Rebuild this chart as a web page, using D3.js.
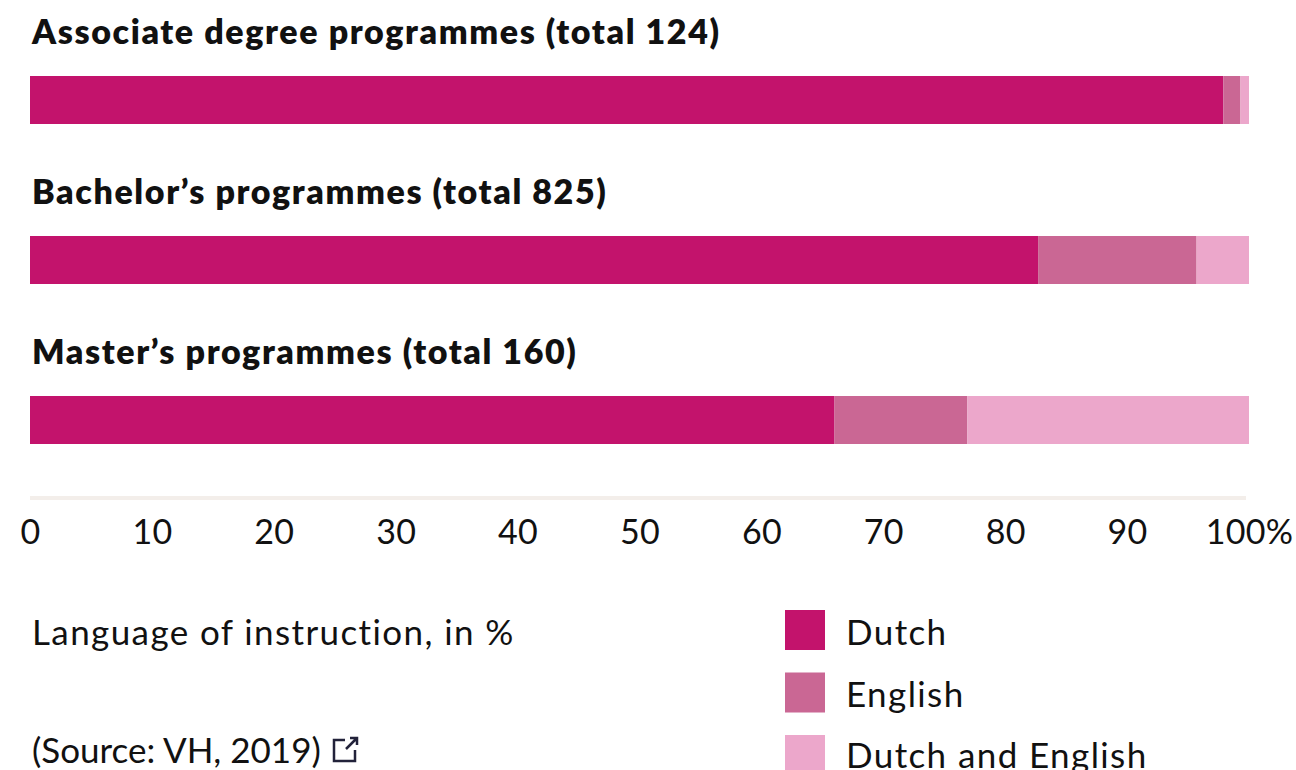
<!DOCTYPE html>
<html><head><meta charset="utf-8">
<script src="https://cdn.jsdelivr.net/npm/d3@7"></script>
<style>body{margin:0;background:#fff;} svg{display:block;}</style>
</head><body>
<svg id="chart" width="1296" height="770"></svg>
<script>
const categories = ["Associate degree programmes (total 124)", "Bachelor\u2019s programmes (total 825)", "Master\u2019s programmes (total 160)"];
const seriesNames = ["Dutch", "English", "Dutch and English"];
const dutch = [97.9, 82.7, 66.0];
const english = [1.4, 13.0, 10.9];
const dutchEnglish = [0.7, 4.3, 23.1];
const colors = ["#c3136c", "#ca6794", "#eca7cb"];
const tickValues = [0,10,20,30,40,50,60,70,80,90,100];
const tickLabels = ["0","10","20","30","40","50","60","70","80","90","100%"];

const svg = d3.select("#chart");
const x = d3.scaleLinear().domain([0,100]).range([30,1249]);
const rows = categories.map((c,i)=>({cat:c, vals:[dutch[i],english[i],dutchEnglish[i]]}));
const stack = d3.stack().keys([0,1,2]).value((d,k)=>d.vals[k]);
const series = stack(rows);
const rowTop = i => 76 + i*160;
const font = "Lato, 'Open Sans', sans-serif";

svg.selectAll("text.title").data(categories).join("text")
  .attr("class","title").attr("x",32).attr("y",(d,i)=>44+i*160)
  .attr("font-family",font).attr("font-weight",800).attr("font-size",34)
  .attr("letter-spacing",1.6)
  .attr("fill","#111").text(d=>d);

series.forEach((s,k)=>{
  svg.append("g").attr("fill",colors[k]).selectAll("rect").data(s).join("rect")
    .attr("x",d=>x(d[0])).attr("width",d=>x(d[1])-x(d[0]))
    .attr("y",(d,i)=>rowTop(i)).attr("height",48);
});

const axis = d3.axisBottom(x).tickValues(tickValues).tickFormat((d,i)=>tickLabels[i]).tickSize(0).tickPadding(0);
const ag = svg.append("g").attr("transform","translate(0,498)").call(axis);
ag.select(".domain").attr("stroke","#f3eeea").attr("stroke-width",4).attr("d","M30,0H1246");
ag.selectAll("text").attr("font-family",font).attr("font-size",34).attr("fill","#111")
  .attr("letter-spacing",0.3).attr("dy",null).attr("y",46);

svg.append("text").attr("x",32).attr("y",645).attr("font-family",font).attr("font-size",35).attr("fill","#111")
  .attr("letter-spacing",1.4).text("Language of instruction, in %");
svg.append("text").attr("x",32).attr("y",763).attr("font-family",font).attr("font-size",35).attr("fill","#111")
  .attr("letter-spacing",0).text("(Source: VH, 2019)");
// external link icon
svg.append("path").attr("d","M345,740 H334 V761 H355 V750 M346,749 L357,738 M350,738 H357 V745")
  .attr("fill","none").attr("stroke","#22223a").attr("stroke-width",2.5);

const lg = svg.append("g");
seriesNames.forEach((n,k)=>{
  lg.append("rect").attr("x",785).attr("y",610+k*62.5).attr("width",40).attr("height",40).attr("fill",colors[k]);
  lg.append("text").attr("x",846).attr("y",645+k*61.5).attr("font-family",font).attr("font-size",35).attr("fill","#111")
    .attr("letter-spacing",1.4).text(n);
});
</script>
</body></html>
